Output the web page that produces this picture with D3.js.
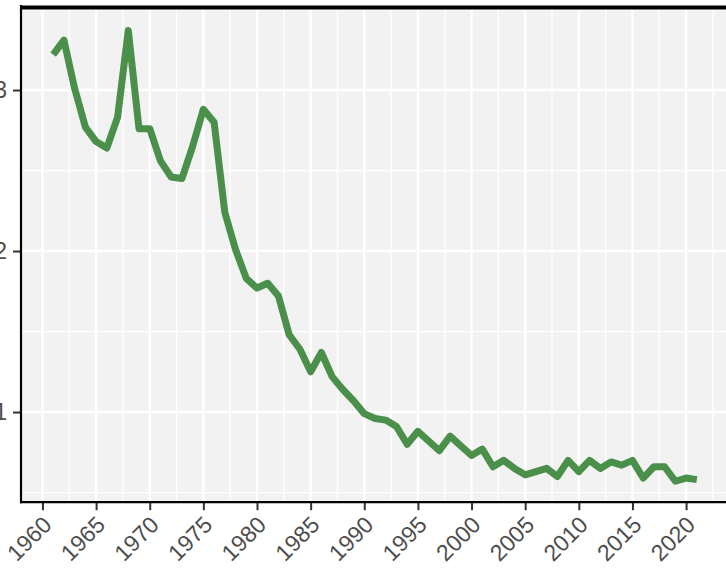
<html>
<head>
    <script src='https://d3js.org/d3.v7.min.js'></script>
    <style>
    body { margin: 0; background: white; }
    </style>
</head>
<body>
<svg width=726 height=568></svg>

<script>
  var years = d3.range(1961, 2022);
  var values = [3.22, 3.31, 3.01, 2.77, 2.68, 2.64, 2.83, 3.37, 2.76, 2.76,
                2.56, 2.46, 2.45, 2.65, 2.88, 2.80, 2.24, 2.01, 1.83, 1.77,
                1.80, 1.72, 1.48, 1.39, 1.25, 1.37, 1.22, 1.14, 1.07, 0.99,
                0.96, 0.95, 0.91, 0.80, 0.88, 0.82, 0.76, 0.85, 0.79, 0.73,
                0.77, 0.66, 0.70, 0.65, 0.61, 0.63, 0.65, 0.60, 0.70, 0.63,
                0.70, 0.65, 0.69, 0.67, 0.70, 0.59, 0.66, 0.66, 0.57, 0.59, 0.58];
  var xTicks = d3.range(1960, 2021, 5);
  var yTicks = [1, 2, 3];

  var svg = d3.select("svg");
  var xs = d3.scaleLinear().domain([1958, 2024]).range([21, 729]);
  var ys = d3.scaleLinear().domain([0.44, 3.52]).range([502.2, 6.3]);

  // panel background
  svg.append("rect")
    .attr("x", xs(1958)).attr("y", ys(3.52))
    .attr("width", xs(2024) - xs(1958)).attr("height", ys(0.44) - ys(3.52))
    .attr("fill", "#f2f2f2");

  var grid = svg.append("g");
  // minor grid
  grid.selectAll(".mx").data(d3.range(1957.5, 2024, 5)).enter()
    .append("line")
    .attr("x1", d => xs(d)).attr("x2", d => xs(d))
    .attr("y1", ys(3.52)).attr("y2", ys(0.44))
    .attr("stroke", "white").attr("stroke-width", 1.3);
  grid.selectAll(".my").data([0.5, 1.5, 2.5, 3.5]).enter()
    .append("line")
    .attr("x1", xs(1958)).attr("x2", xs(2024))
    .attr("y1", d => ys(d)).attr("y2", d => ys(d))
    .attr("stroke", "white").attr("stroke-width", 1.3);
  // major grid
  grid.selectAll(".Mx").data(xTicks).enter()
    .append("line")
    .attr("x1", d => xs(d)).attr("x2", d => xs(d))
    .attr("y1", ys(3.52)).attr("y2", ys(0.44))
    .attr("stroke", "white").attr("stroke-width", 2.4);
  grid.selectAll(".My").data(yTicks).enter()
    .append("line")
    .attr("x1", xs(1958)).attr("x2", xs(2024))
    .attr("y1", d => ys(d)).attr("y2", d => ys(d))
    .attr("stroke", "white").attr("stroke-width", 2.4);

  // data line
  var line = d3.line().x((d, i) => xs(years[i])).y(d => ys(d));
  svg.append("path")
    .datum(values)
    .attr("d", line)
    .attr("fill", "none")
    .attr("stroke", "#4a8f4a")
    .attr("stroke-width", 7)
    .attr("stroke-linejoin", "round");

  // axes
  var yAxis = svg.append("g").attr("transform", "translate(" + xs(1958) + ",0)")
    .call(d3.axisLeft(ys).tickValues(yTicks).tickSize(8).tickPadding(6).tickFormat(d3.format("d")))
    .attr("font-size", 23).attr("font-family", "Liberation Sans");
  yAxis.select(".domain").remove();
  yAxis.selectAll(".tick line").attr("stroke", "#333").attr("stroke-width", 2);
  yAxis.selectAll(".tick text").attr("fill", "#4d4d4d");

  var xAxis = svg.append("g").attr("transform", "translate(0," + ys(0.44) + ")")
    .call(d3.axisBottom(xs).tickValues(xTicks).tickSize(8).tickFormat(d3.format("d")))
    .attr("font-size", 23).attr("font-family", "Liberation Sans");
  xAxis.select(".domain").remove();
  xAxis.selectAll(".tick line").attr("stroke", "#333").attr("stroke-width", 2);
  xAxis.selectAll(".tick text")
    .attr("fill", "#4d4d4d")
    .attr("text-anchor", "end")
    .attr("dy", null)
    .attr("y", 0)
    .attr("transform", "translate(10,24) rotate(-45)");

  // axis lines
  svg.append("line")
    .attr("x1", xs(1958)).attr("x2", xs(1958))
    .attr("y1", 5).attr("y2", ys(0.44) + 1)
    .attr("stroke", "black").attr("stroke-width", 2.2);
  svg.append("line")
    .attr("x1", xs(1958) - 1).attr("x2", 726)
    .attr("y1", ys(0.44)).attr("y2", ys(0.44))
    .attr("stroke", "black").attr("stroke-width", 2.2);
  svg.append("line")
    .attr("x1", xs(1958) - 1).attr("x2", 726)
    .attr("y1", 7.5).attr("y2", 7.5)
    .attr("stroke", "black").attr("stroke-width", 4);
</script>

</body>
</html>
